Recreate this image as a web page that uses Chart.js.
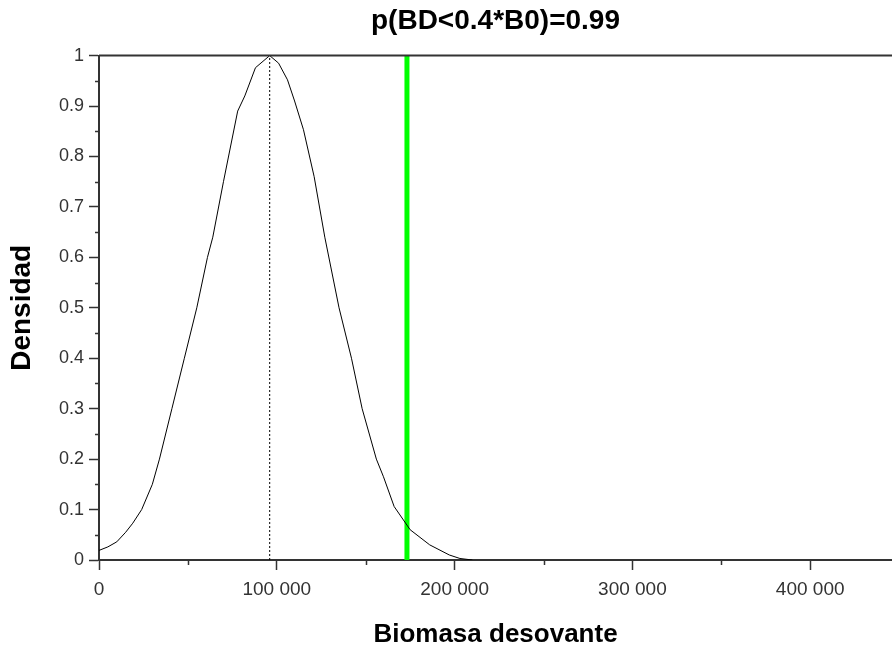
<!DOCTYPE html>
<html>
<head>
<meta charset="utf-8">
<script src="https://cdn.jsdelivr.net/npm/chart.js@4"></script>
<style>
  body { margin: 0; background: #fff; overflow: hidden; }
  #wrap { width: 892px; height: 650px; }
</style>
</head>
<body>
<div id="wrap"><canvas id="grafico"></canvas></div>
<script>
// Datos
const biomasa = [0, 5000, 10000, 15000, 19000, 24000, 30000, 34000, 41000, 48000, 55000, 61000, 64000,
  70000, 78000, 82000, 88000, 96000, 101000, 106000, 110000, 115000, 121000, 127000, 135000, 142000,
  148000, 156000, 160000, 166000, 175000, 186000, 197000, 203000, 210000];
const densidad = [0.019, 0.026, 0.036, 0.055, 0.073, 0.10, 0.15, 0.20, 0.30, 0.40, 0.50, 0.60, 0.64,
  0.75, 0.89, 0.92, 0.976, 1.0, 0.985, 0.952, 0.91, 0.853, 0.76, 0.64, 0.50, 0.40,
  0.30, 0.20, 0.165, 0.106, 0.060, 0.030, 0.010, 0.003, 0.0];
const moda = 96000;       // linea punteada
const limite = 173200;    // linea verde (0.4*B0)
const xMax = 446000;
const xTicks = [0, 100000, 200000, 300000, 400000];
const xMenores = [50000, 150000, 250000, 350000];
const yMenores = [0.05, 0.15, 0.25, 0.35, 0.45, 0.55, 0.65, 0.75, 0.85, 0.95];
const titulo = 'p(BD<0.4*B0)=0.99';

const curva = biomasa.map((b, i) => ({ x: b, y: densidad[i] }));

function miles(v) {
  return String(v).replace(/\B(?=(\d{3})+(?!\d))/g, ' ');
}

// ticks menores y borde superior
const extras = {
  id: 'extras',
  afterDraw(chart) {
    const ctx = chart.ctx;
    const xs = chart.scales.x, ys = chart.scales.y;
    const area = chart.chartArea;
    ctx.save();
    ctx.strokeStyle = '#333';
    ctx.lineWidth = 1.5;
    ctx.beginPath();
    xMenores.forEach(v => {
      const px = Math.round(xs.getPixelForValue(v)) + 0.5;
      ctx.moveTo(px, area.bottom);
      ctx.lineTo(px, area.bottom + 5);
    });
    yMenores.forEach(v => {
      const py = Math.round(ys.getPixelForValue(v)) + 0.5;
      ctx.moveTo(area.left - 4, py);
      ctx.lineTo(area.left, py);
    });
    ctx.stroke();
    ctx.lineWidth = 2;
    ctx.beginPath();
    ctx.moveTo(area.left, area.top);
    ctx.lineTo(area.right, area.top);
    ctx.stroke();
    ctx.restore();
  }
};

new Chart(document.getElementById('grafico'), {
  type: 'scatter',
  data: {
    datasets: [
      {
        data: curva,
        showLine: true,
        borderColor: '#000',
        borderWidth: 1,
        pointRadius: 0,
        tension: 0
      },
      {
        data: [{ x: moda, y: 0 }, { x: moda, y: 1 }],
        showLine: true,
        borderColor: '#000',
        borderWidth: 1,
        borderDash: [2, 2],
        pointRadius: 0
      },
      {
        data: [{ x: limite, y: 0 }, { x: limite, y: 1 }],
        showLine: true,
        borderColor: '#00ff00',
        borderWidth: 5,
        pointRadius: 0
      }
    ]
  },
  options: {
    responsive: true,
    maintainAspectRatio: false,
    animation: false,
    layout: { padding: 0 },
    plugins: {
      legend: { display: false },
      tooltip: { enabled: false },
      title: {
        display: true,
        fullSize: false,
        text: titulo,
        color: '#000',
        font: { family: 'Liberation Sans', size: 28, weight: 'bold' },
        padding: { top: 4, bottom: 18 }
      }
    },
    scales: {
      x: {
        type: 'linear',
        min: 0,
        max: xMax,
        border: { display: true, color: '#333', width: 2 },
        grid: { drawOnChartArea: false, tickLength: 10, tickColor: '#333', tickWidth: 1.5 },
        afterBuildTicks: s => { s.ticks = xTicks.map(v => ({ value: v })); },
        ticks: {
          maxRotation: 0,
          autoSkip: false,
          color: '#333',
          padding: 8,
          font: { family: 'Liberation Sans', size: 19 },
          callback: v => miles(v)
        },
        title: {
          display: true,
          text: 'Biomasa desovante',
          color: '#000',
          font: { family: 'Liberation Sans', size: 26, weight: 'bold' },
          padding: { top: 0, bottom: 0 }
        },
        afterFit: s => { s.height = 90; }
      },
      y: {
        min: 0,
        max: 1,
        border: { display: true, color: '#333', width: 2 },
        grid: { drawOnChartArea: false, tickLength: 10, tickColor: '#333', tickWidth: 1.5 },
        ticks: {
          stepSize: 0.1,
          color: '#333',
          padding: 5,
          font: { family: 'Liberation Sans', size: 18 },
          callback: v => String(+v.toFixed(1))
        },
        title: {
          display: true,
          text: 'Densidad',
          color: '#000',
          font: { family: 'Liberation Sans', size: 28, weight: 'bold' },
          padding: { top: 5, bottom: 0 }
        },
        afterFit: s => { s.width = 99; }
      }
    }
  },
  plugins: [extras]
});
</script>
</body>
</html>
